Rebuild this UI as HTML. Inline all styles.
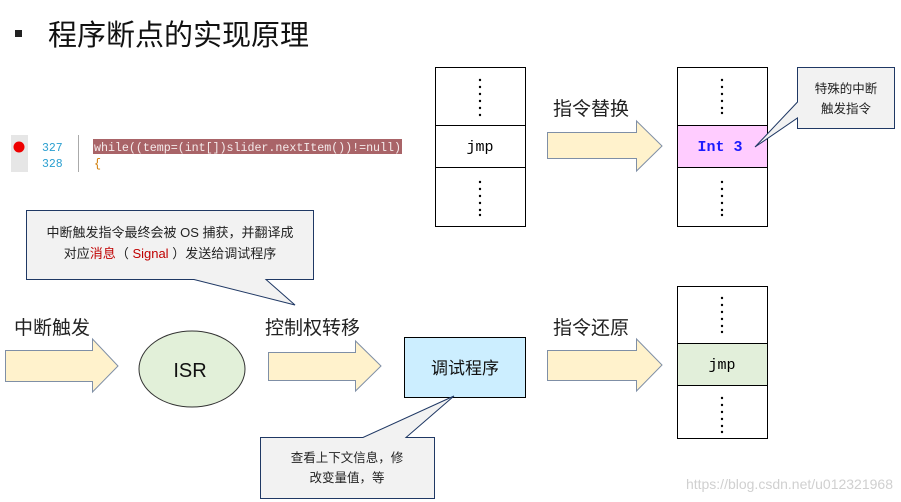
<!DOCTYPE html>
<html><head><meta charset="utf-8"><style>
body{margin:0;background:#fff}
svg{display:block}
.cj{font-family:"Liberation Sans","Noto Sans CJK SC",sans-serif}
.mo{font-family:"Liberation Mono",monospace}
</style></head><body>
<svg width="901" height="502" viewBox="0 0 901 502" xmlns="http://www.w3.org/2000/svg">
<rect x="15" y="30" width="7" height="7" fill="#222"/>
<text x="48" y="45" class="cj" font-size="29" fill="#111">程序断点的实现原理</text>

<!-- code -->
<rect x="11" y="135" width="17" height="37" fill="#e6e6e6"/>
<circle cx="19" cy="147" r="5.5" fill="#e00"/>
<text x="42" y="151" class="mo" font-size="11.5" fill="#2a9fd0">327</text>
<text x="42" y="167" class="mo" font-size="11.5" fill="#2a9fd0">328</text>
<line x1="78.5" y1="135" x2="78.5" y2="172" stroke="#aaa"/>
<rect x="93" y="139" width="309" height="15" fill="#a96468"/>
<text x="94" y="151" class="mo" font-size="11.7" fill="#f4eaea" textLength="307">while((temp=(int[])slider.nextItem())!=null)</text>
<text x="94" y="167" class="mo" font-size="11.7" fill="#d07a00">{</text>

<!-- callout 1 -->
<path d="M26.5,210.5 H313.5 V279.5 H266 L295,305 L194,279.5 H26.5 Z" fill="#f2f2f2" stroke="#1f3864"/>
<text x="170" y="237" class="cj" font-size="13" fill="#222" text-anchor="middle">中断触发指令最终会被 OS 捕获，并翻译成</text>
<text x="170" y="258" class="cj" font-size="13" fill="#222" text-anchor="middle">对应<tspan fill="#c00000">消息</tspan>（ <tspan fill="#c00000">Signal</tspan> ）发送给调试程序</text>

<!-- memory box 1 -->
<rect x="435.5" y="67.5" width="90" height="159" fill="#fff" stroke="#000"/>
<line x1="435" y1="125.5" x2="526" y2="125.5" stroke="#000"/>
<line x1="435" y1="167.5" x2="526" y2="167.5" stroke="#000"/>
<g fill="#000">
<circle cx="480" cy="80" r="1.2"/><circle cx="480" cy="87" r="1.2"/><circle cx="480" cy="94" r="1.2"/><circle cx="480" cy="101" r="1.2"/><circle cx="480" cy="108" r="1.2"/><circle cx="480" cy="115" r="1.2"/>
<circle cx="480" cy="182" r="1.2"/><circle cx="480" cy="189" r="1.2"/><circle cx="480" cy="196" r="1.2"/><circle cx="480" cy="203" r="1.2"/><circle cx="480" cy="210" r="1.2"/><circle cx="480" cy="215" r="1.2"/>
</g>
<text x="480" y="151" class="mo" font-size="15" text-anchor="middle">jmp</text>

<!-- arrow 指令替换 -->
<text x="553" y="115" class="cj" font-size="19" fill="#222">指令替换</text>
<path d="M547.5,132.5 H636.5 V121 L662,146 L636.5,171 V158.5 H547.5 Z" fill="#fff2cc" stroke="#7f8fa6"/>

<!-- memory box 2 -->
<rect x="677.5" y="67.5" width="90" height="159" fill="#fff" stroke="#000"/>
<rect x="678" y="125.5" width="89" height="42" fill="#ffccff"/>
<line x1="677" y1="125.5" x2="768" y2="125.5" stroke="#000"/>
<line x1="677" y1="167.5" x2="768" y2="167.5" stroke="#000"/>
<g fill="#000">
<circle cx="722" cy="80" r="1.2"/><circle cx="722" cy="87" r="1.2"/><circle cx="722" cy="94" r="1.2"/><circle cx="722" cy="101" r="1.2"/><circle cx="722" cy="108" r="1.2"/><circle cx="722" cy="113" r="1.2"/>
<circle cx="722" cy="182" r="1.2"/><circle cx="722" cy="189" r="1.2"/><circle cx="722" cy="196" r="1.2"/><circle cx="722" cy="203" r="1.2"/><circle cx="722" cy="210" r="1.2"/><circle cx="722" cy="215" r="1.2"/>
</g>
<text x="720" y="151" class="mo" font-size="15" font-weight="bold" fill="#1a1aff" text-anchor="middle">Int 3</text>

<!-- callout 2 -->
<path d="M797.5,67.5 H894.5 V128.5 H797.5 V118 L755,147 L797.5,102 Z" fill="#f2f2f2" stroke="#1f3864"/>
<text x="846" y="93" class="cj" font-size="12.5" fill="#222" text-anchor="middle">特殊的中断</text>
<text x="846" y="113" class="cj" font-size="12.5" fill="#222" text-anchor="middle">触发指令</text>

<!-- row 2 -->
<text x="14" y="334" class="cj" font-size="19" fill="#222">中断触发</text>
<path d="M5.5,350.5 H92.5 V339 L118,366 L92.5,392 V381.5 H5.5 Z" fill="#fff2cc" stroke="#7f8fa6"/>
<ellipse cx="192" cy="369" rx="53" ry="38" fill="#e2f0d9" stroke="#333"/>
<text x="190" y="377" class="cj" font-size="20" text-anchor="middle" fill="#111">ISR</text>
<text x="265" y="334" class="cj" font-size="19" fill="#222">控制权转移</text>
<path d="M268.5,352.5 H355.5 V341 L381,366 L355.5,391 V380.5 H268.5 Z" fill="#fff2cc" stroke="#7f8fa6"/>
<rect x="404.5" y="337.5" width="121" height="60" fill="#cceeff" stroke="#000"/>
<text x="465" y="374" class="cj" font-size="17" text-anchor="middle" fill="#111">调试程序</text>
<text x="553" y="334" class="cj" font-size="19" fill="#222">指令还原</text>
<path d="M547.5,350.5 H636.5 V339 L662,365 L636.5,391 V380.5 H547.5 Z" fill="#fff2cc" stroke="#7f8fa6"/>

<!-- memory box 3 -->
<rect x="677.5" y="286.5" width="90" height="152" fill="#fff" stroke="#000"/>
<rect x="678" y="343.5" width="89" height="42" fill="#e2efda"/>
<line x1="677" y1="343.5" x2="768" y2="343.5" stroke="#000"/>
<line x1="677" y1="385.5" x2="768" y2="385.5" stroke="#000"/>
<g fill="#000">
<circle cx="722" cy="298" r="1.2"/><circle cx="722" cy="305" r="1.2"/><circle cx="722" cy="312" r="1.2"/><circle cx="722" cy="319" r="1.2"/><circle cx="722" cy="326" r="1.2"/><circle cx="722" cy="332" r="1.2"/>
<circle cx="722" cy="398" r="1.2"/><circle cx="722" cy="405" r="1.2"/><circle cx="722" cy="412" r="1.2"/><circle cx="722" cy="419" r="1.2"/><circle cx="722" cy="426" r="1.2"/><circle cx="722" cy="432" r="1.2"/>
</g>
<text x="722" y="369" class="mo" font-size="15" text-anchor="middle">jmp</text>

<!-- callout 3 -->
<path d="M260.5,437.5 H363 L454,396 L406,437.5 H434.5 V498.5 H260.5 Z" fill="#f2f2f2" stroke="#1f3864"/>
<text x="347" y="462" class="cj" font-size="12.5" fill="#222" text-anchor="middle">查看上下文信息，修</text>
<text x="347" y="482" class="cj" font-size="12.5" fill="#222" text-anchor="middle">改变量值，等</text>

<text x="893" y="489" class="cj" font-size="14" fill="#d0d0d0" text-anchor="end">https://blog.csdn.net/u012321968</text>
</svg>
</body></html>
